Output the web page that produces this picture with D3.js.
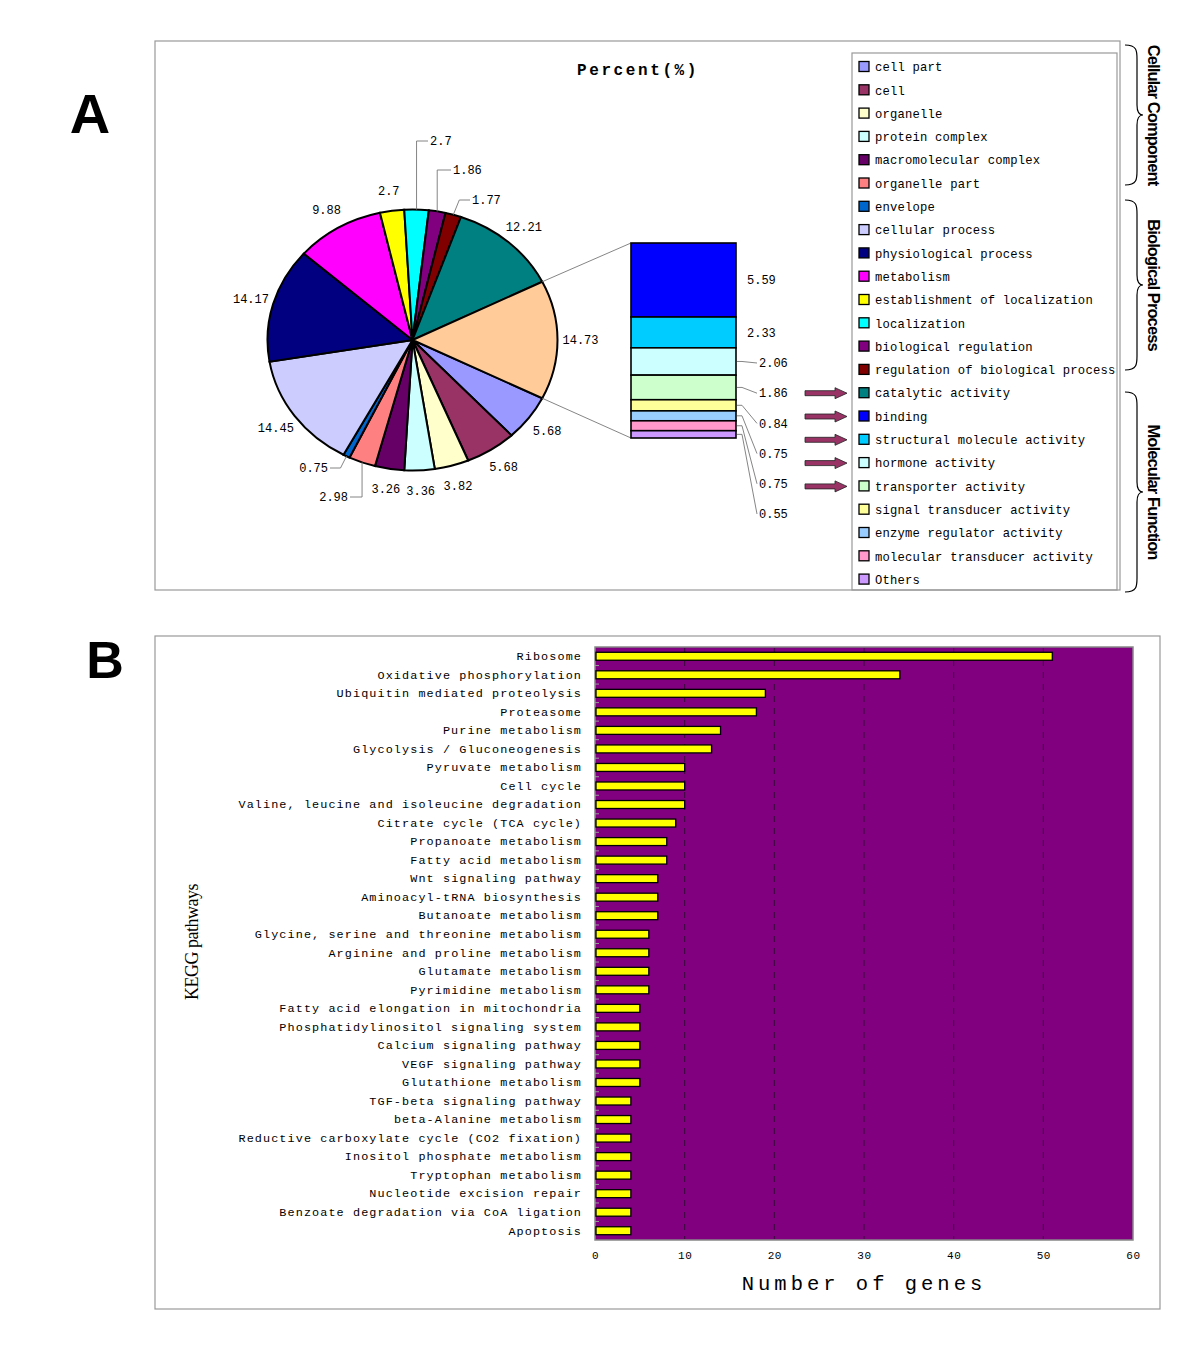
<!DOCTYPE html>
<html><head><meta charset="utf-8">
<script src="https://cdn.jsdelivr.net/npm/d3@7/dist/d3.min.js"></script>
<style>body{margin:0;background:#fff} svg{display:block}</style>
</head><body><svg id="c" width="1200" height="1350"></svg>
<script>
// ---------- DATA ----------
const goTerms = ["cell part","cell","organelle","protein complex","macromolecular complex","organelle part","envelope",
  "cellular process","physiological process","metabolism","establishment of localization","localization","biological regulation","regulation of biological process",
  "catalytic activity","binding","structural molecule activity","hormone activity","transporter activity","signal transducer activity","enzyme regulator activity","molecular transducer activity","Others"];
const goColors = ["#9999ff","#993366","#ffffcc","#ccffff","#660066","#ff8080","#0066cc",
  "#ccccff","#000080","#ff00ff","#ffff00","#00ffff","#800080","#800000",
  "#008080","#0000ff","#00ccff","#ccffff","#ccffcc","#ffff99","#99ccff","#ff99cc","#cc99ff"];
const piePct = [5.68,5.68,3.82,3.36,3.26,2.98,0.75,14.45,14.17,9.88,2.7,2.7,1.86,1.77,12.21];
const secondaryPct = [5.59,2.33,2.06,1.86,0.84,0.75,0.75,0.55];
const otherSliceColor = "#ffcc99";
const goGroups = ["Cellular Component","Biological Process","Molecular Function"];

const pathways = ["Ribosome","Oxidative phosphorylation","Ubiquitin mediated proteolysis","Proteasome","Purine metabolism",
  "Glycolysis / Gluconeogenesis","Pyruvate metabolism","Cell cycle","Valine, leucine and isoleucine degradation","Citrate cycle (TCA cycle)",
  "Propanoate metabolism","Fatty acid metabolism","Wnt signaling pathway","Aminoacyl-tRNA biosynthesis","Butanoate metabolism",
  "Glycine, serine and threonine metabolism","Arginine and proline metabolism","Glutamate metabolism","Pyrimidine metabolism",
  "Fatty acid elongation in mitochondria","Phosphatidylinositol signaling system","Calcium signaling pathway","VEGF signaling pathway",
  "Glutathione metabolism","TGF-beta signaling pathway","beta-Alanine metabolism","Reductive carboxylate cycle (CO2 fixation)",
  "Inositol phosphate metabolism","Tryptophan metabolism","Nucleotide excision repair","Benzoate degradation via CoA ligation","Apoptosis"];
const geneCounts = [51,34,19,18,14,13,10,10,10,9,8,8,7,7,7,6,6,6,6,5,5,5,5,5,4,4,4,4,4,4,4,4];
const xTicks = [0,10,20,30,40,50,60];

// ---------- SETUP ----------
const svg = d3.select("#c");
const mono = "'Liberation Mono','DejaVu Sans Mono',monospace";
const sans = "'Liberation Sans',Arial,sans-serif";

// frames
svg.append("rect").attr("x",155).attr("y",41).attr("width",965).attr("height",549).attr("fill","none").attr("stroke","#999").attr("stroke-width",1.2);
svg.append("rect").attr("x",852).attr("y",53).attr("width",265).attr("height",537).attr("fill","none").attr("stroke","#999").attr("stroke-width",1.2);
svg.append("rect").attr("x",155).attr("y",636).attr("width",1005).attr("height",673).attr("fill","none").attr("stroke","#999").attr("stroke-width",1.2);

svg.append("text").attr("x",90).attr("y",133).attr("text-anchor","middle").attr("font-family",sans).attr("font-weight","bold").attr("font-size",56).text("A");
svg.append("text").attr("x",105).attr("y",678).attr("text-anchor","middle").attr("font-family",sans).attr("font-weight","bold").attr("font-size",52).text("B");

svg.append("text").attr("x",638).attr("y",75).attr("text-anchor","middle").attr("font-family",mono).attr("font-weight","bold")
  .attr("font-size",16).attr("letter-spacing",2.6).text("Percent(%)");

// ---------- PIE ----------
const cx = 412.5, cy = 340, R = 145, sy = 0.9;
const secTotal = +d3.sum(secondaryPct).toFixed(2);
const pieData = piePct.map((v,i)=>({v, color:goColors[i], i}));
pieData.push({v:secTotal, color:otherSliceColor, i:-1});
const tot = d3.sum(pieData, d=>d.v);
const otherSpan = secTotal/tot*2*Math.PI;
const start = Math.PI/2 + otherSpan/2;
const arcs = d3.pie().sort(null).value(d=>d.v).startAngle(start).endAngle(start+2*Math.PI)(pieData);
const arc = d3.arc().innerRadius(0).outerRadius(R);
svg.append("g").attr("transform",`translate(${cx},${cy}) scale(1,${sy})`)
  .selectAll("path").data(arcs).join("path")
  .attr("d",arc).attr("fill",d=>d.data.color).attr("stroke","#000").attr("stroke-width",2).attr("vector-effect","non-scaling-stroke");

const pt = (a,r)=>[cx + r*Math.sin(a), cy - r*Math.cos(a)*sy];
const fmt = v => String(+v.toFixed(2));
// callout layout for small slices: [bend dx from edge, bend y, end x, anchor]
const callouts = {11:[0,141,428,"start"],12:[0,170,451,"start"],13:[6,200,470,"start"],6:[-6,468,330,"end"],5:[0,497,350,"end"]};
const gl = svg.append("g").attr("font-family",mono).attr("font-size",12);
arcs.forEach(d=>{
  const mid = (d.startAngle+d.endAngle)/2;
  const c = callouts[d.data.i];
  if(c){
    const e = pt(mid, R);
    const bx = e[0]+c[0];
    gl.append("polyline").attr("points",[e,[bx,c[1]],[c[2],c[1]]].map(p=>p.join(",")).join(" "))
      .attr("fill","none").attr("stroke","#777").attr("stroke-width",0.9);
    gl.append("text").attr("x",c[3]==="start"?c[2]+2:c[2]-2).attr("y",c[1]).attr("dy","0.35em")
      .attr("text-anchor",c[3]).text(fmt(d.data.v));
  } else {
    const p = pt(mid, 168);
    gl.append("text").attr("x",p[0]).attr("y",p[1]).attr("dy","0.35em").attr("text-anchor","middle").text(fmt(d.data.v));
  }
});

// ---------- SECONDARY BAR ----------
const bx0 = 631, bx1 = 736;
const ys = d3.scaleLinear().domain([0,secTotal]).range([438,243]);
let cum = 0;
const segs = secondaryPct.map((v,i)=>{const s={v,i,top:ys(secTotal-cum),bot:ys(secTotal-cum-v),color:goColors[15+i]}; cum+=v; return s;});
const otherArc = arcs[arcs.length-1];
const up = pt(otherArc.startAngle, R), lo = pt(otherArc.endAngle, R);
svg.append("line").attr("x1",up[0]).attr("y1",up[1]).attr("x2",bx0).attr("y2",ys(secTotal)).attr("stroke","#777").attr("stroke-width",0.9);
svg.append("line").attr("x1",lo[0]).attr("y1",lo[1]).attr("x2",bx0).attr("y2",ys(0)).attr("stroke","#777").attr("stroke-width",0.9);
svg.append("g").selectAll("rect").data(segs).join("rect")
  .attr("x",bx0).attr("width",bx1-bx0).attr("y",d=>d.top).attr("height",d=>d.bot-d.top)
  .attr("fill",d=>d.color).attr("stroke","#000").attr("stroke-width",1.6);
const gs = svg.append("g").attr("font-family",mono).attr("font-size",12);
segs.forEach(s=>{
  const mid = (s.top+s.bot)/2;
  if(s.i<2){
    gs.append("text").attr("x",747).attr("y",mid).attr("dy","0.35em").text(fmt(s.v));
  } else {
    const ly = 363 + (s.i-2)*30.2;
    gs.append("polyline").attr("points",`${bx1+1},${mid} ${bx1+6},${mid} 757,${ly}`).attr("fill","none").attr("stroke","#777").attr("stroke-width",0.9);
    gs.append("text").attr("x",759).attr("y",ly).attr("dy","0.35em").text(fmt(s.v));
  }
});

// ---------- LEGEND ----------
const legY = i => 67 + i*23.3;
const gLeg = svg.append("g");
goTerms.forEach((t,i)=>{
  gLeg.append("rect").attr("x",859).attr("y",legY(i)-5.5).attr("width",10).attr("height",10).attr("fill",goColors[i]).attr("stroke","#000").attr("stroke-width",1.3);
  gLeg.append("text").attr("x",875).attr("y",legY(i)).attr("dy","0.35em").attr("font-family",mono).attr("font-size",12.2).attr("letter-spacing",0.2).text(t);
});
// arrows to MF entries
d3.range(14,19).forEach(i=>{
  const y0 = legY(i);
  svg.append("polygon").attr("points",[[805,y0-2.5],[835,y0-2.5],[835,y0-5.5],[847,y0],[835,y0+5.5],[835,y0+2.5],[805,y0+2.5]].map(p=>p.join(",")).join(" "))
    .attr("fill","#993366").attr("stroke","#222").attr("stroke-width",0.8);
});

// braces & group labels
const braces = [[45,185],[200,370],[392,592]];
const bracePath = (y0,y1)=>{
  const x0=1125, xl=1137, xt=1143, ym=(y0+y1)/2;
  return `M${x0},${y0} C${xl},${y0} ${xl},${y0+6} ${xl},${y0+14} L${xl},${ym-10} C${xl},${ym-3} ${xl+2},${ym} ${xt},${ym} C${xl+2},${ym} ${xl},${ym+3} ${xl},${ym+10} L${xl},${y1-14} C${xl},${y1-6} ${xl},${y1} ${x0},${y1}`;
};
braces.forEach((b,i)=>{
  svg.append("path").attr("d",bracePath(b[0],b[1])).attr("fill","none").attr("stroke","#000").attr("stroke-width",1.2);
  const ym=(b[0]+b[1])/2;
  svg.append("text").attr("transform",`translate(1154,${ym}) rotate(90)`).attr("text-anchor","middle").attr("dy","0.35em")
    .attr("font-family",sans).attr("font-weight","bold").attr("font-size",16.5).attr("letter-spacing",-0.9).text(goGroups[i]);
});

// ---------- BAR CHART ----------
const x = d3.scaleLinear().domain([0,60]).range([595,1133]);
const y = d3.scaleBand().domain(pathways).range([647,1240]).paddingInner(0.57).paddingOuter(0.285);
svg.append("rect").attr("x",x(0)).attr("y",647).attr("width",x(60)-x(0)).attr("height",593).attr("fill","#800080").attr("stroke","#888").attr("stroke-width",1.5);
svg.append("g").selectAll("line").data(xTicks.slice(1,-1)).join("line")
  .attr("x1",d=>x(d)).attr("x2",d=>x(d)).attr("y1",648).attr("y2",1239)
  .attr("stroke","#3a0a3a").attr("stroke-width",1).attr("stroke-dasharray","6,6");
// small left ticks at band boundaries
svg.append("g").selectAll("line").data(pathways.slice(1)).join("line")
  .attr("x1",x(0)).attr("x2",x(0)+4).attr("y1",d=>y(d)-y.step()*y.paddingInner()/2).attr("y2",d=>y(d)-y.step()*y.paddingInner()/2)
  .attr("stroke","#999").attr("stroke-width",1);
svg.append("g").selectAll("rect").data(pathways).join("rect")
  .attr("x",x(0)+1).attr("y",d=>y(d)).attr("height",y.bandwidth())
  .attr("width",(d,i)=>x(geneCounts[i])-x(0)-1)
  .attr("fill","#ffff00").attr("stroke","#000").attr("stroke-width",1.3);

const ay = svg.append("g").attr("transform",`translate(${x(0)},0)`).call(d3.axisLeft(y).tickSize(0).tickPadding(13));
ay.select(".domain").remove();
ay.selectAll("text").attr("font-family",mono).attr("font-size",11.8).attr("letter-spacing",1.1).attr("fill","#000");

const ax = svg.append("g").attr("transform","translate(0,1240)").call(d3.axisBottom(x).tickValues(xTicks).tickSize(0).tickPadding(11));
ax.select(".domain").remove();
ax.selectAll("text").attr("font-family",mono).attr("font-size",11).attr("letter-spacing",0.6).attr("fill","#000");

svg.append("text").attr("x",864).attr("y",1290).attr("text-anchor","middle").attr("font-family",mono).attr("font-size",20.5)
  .attr("letter-spacing",4).text("Number of genes");
svg.append("text").attr("transform","translate(198,942) rotate(-90)").attr("text-anchor","middle").attr("font-family","'Liberation Serif',serif")
  .attr("font-size",18).attr("letter-spacing",-0.5).text("KEGG pathways");
</script></body></html>
